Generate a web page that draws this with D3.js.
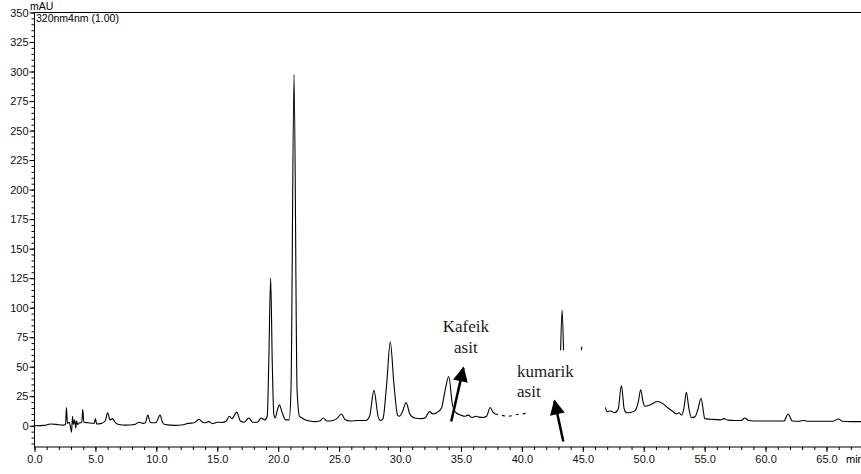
<!DOCTYPE html>
<html>
<head>
<meta charset="utf-8">
<script src="https://cdn.jsdelivr.net/npm/d3@7"></script>
<style>
  body { margin: 0; background: #fff; }
  svg { display: block; }
  .axis text { font-family: "Liberation Sans", Arial, sans-serif; font-size: 11px; fill: #111; }
  .axis line { stroke: #000; }
  .note { font-family: "Liberation Serif", "Times New Roman", serif; font-size: 17px; fill: #1a1a1a; }
</style>
</head>
<body>
<div id="chart"></div>
<script>
// chromatogram pieces [time (min), mAU] - the trace is broken where labels were pasted on
const traceMain = [
  [0, 0], [0.8, 0.3], [1.3, 1.5], [1.8, 1.2], [2.3, 0.5], [2.55, 1], [2.62, 15.5], [2.7, 2],
  [2.85, 3], [2.95, -1], [3.04, -5.5], [3.12, 8], [3.2, 1], [3.3, 5], [3.38, -2], [3.45, 4],
  [3.55, 1], [3.7, 2.5], [3.88, 2.5], [3.96, 14], [4.05, 3], [4.4, 2.5], [4.9, 2], [5.0, 6],
  [5.1, 1.5], [5.5, 2], [5.8, 4], [6.0, 11], [6.2, 5], [6.4, 6], [6.6, 3], [6.9, 1], [7.5, 0.5],
  [8.2, 1], [8.6, 3], [8.9, 2], [9.1, 2.5], [9.3, 9], [9.5, 3], [9.8, 2.5], [10.0, 3], [10.3, 9],
  [10.5, 3], [10.7, 1], [11.5, 0.3], [12.2, 0.8], [12.6, 2], [13.1, 2.5], [13.5, 5.5], [13.8, 3],
  [14.0, 2.5], [14.3, 3.5], [14.6, 1.8], [15.0, 3], [15.4, 2.8], [15.7, 3.5], [16.0, 8], [16.2, 6],
  [16.6, 11.5], [16.9, 4], [17.2, 3], [17.6, 6.5], [17.9, 3], [18.3, 3], [18.6, 6.5], [18.9, 5],
  [19.1, 8], [19.22, 50], [19.38, 125], [19.52, 50], [19.64, 10], [19.75, 6.5], [19.95, 14],
  [20.1, 17.7], [20.3, 12], [20.6, 5], [20.9, 5], [21.05, 30], [21.3, 297.5], [21.55, 30], [21.75, 8],
  [21.9, 7], [22.2, 5], [22.6, 4], [23.0, 3.5], [23.4, 4], [23.7, 6.5], [24.0, 4], [24.5, 4.5],
  [24.8, 6], [25.2, 10], [25.5, 5], [25.9, 4], [26.5, 4.5], [27.2, 4.5], [27.5, 8], [27.86, 30],
  [28.2, 8], [28.4, 4.5], [28.6, 6], [28.9, 35], [29.2, 71], [29.5, 35], [29.8, 9], [29.95, 8],
  [30.2, 12], [30.5, 19.7], [30.8, 10], [31.2, 6.5], [31.8, 6], [32.1, 7], [32.4, 12], [32.7, 10],
  [33.0, 11], [33.4, 15], [33.7, 30], [34.0, 41.7], [34.3, 18], [34.6, 11], [35.0, 9], [35.3, 8],
  [35.6, 9], [35.9, 7], [36.2, 8], [36.5, 7.3], [36.8, 7], [37.1, 8], [37.4, 15.5], [37.6, 12], [37.8, 10]
];
const traceFaded = [[37.8, 10], [38.3, 9], [38.8, 8], [39.2, 8.5], [39.6, 9.5], [40.0, 10], [40.6, 11]];
const traceSpike = [[43.18, 64], [43.3, 98], [43.42, 64]];
const traceStub = [[44.88, 64], [44.92, 67]];
const traceLate = [
  [46.85, 15.5], [47.0, 12], [47.3, 12.5], [47.6, 11], [47.9, 14], [48.17, 34], [48.4, 14], [48.6, 11],
  [49.0, 11.5], [49.3, 13], [49.55, 20], [49.75, 30.5], [49.95, 20], [50.1, 16.5], [50.5, 17.5],
  [51.1, 20.5], [51.6, 18.5], [52.0, 15], [52.4, 12], [52.7, 10], [52.9, 11], [53.1, 9], [53.3, 15],
  [53.5, 28.4], [53.7, 15], [53.9, 7], [54.2, 7.5], [54.45, 14], [54.7, 23.3], [54.9, 12], [55.0, 6],
  [55.5, 5.5], [56.3, 5], [56.6, 6], [56.9, 4.8], [57.5, 4.5], [58.0, 4.5], [58.3, 6.5], [58.6, 4.5],
  [59.5, 4], [60.5, 4], [61.5, 4], [61.85, 10], [62.2, 4], [62.8, 3.8], [63.1, 4.5], [63.4, 3.8],
  [64.5, 3.8], [65.5, 3.8], [66.0, 5.7], [66.3, 3.8], [67.0, 3.5], [67.9, 3.5]
];

// tick values
const xMajor = [0, 5, 10, 15, 20, 25, 30, 35, 40, 45, 50, 55, 60, 65];
const yMajor = [0, 25, 50, 75, 100, 125, 150, 175, 200, 225, 250, 275, 300, 325, 350];

// annotations: label lines and arrows [from, to] in data units
const noteLabels = [
  { text: "Kafeik", t: 35.4, v: 79, anchor: "middle" },
  { text: "asit", t: 35.4, v: 61.5, anchor: "middle" },
  { text: "kumarik", t: 39.6, v: 41.2, anchor: "start" },
  { text: "asit", t: 39.6, v: 24.3, anchor: "start" }
];
const noteArrows = [
  [[34.2, 3.6], [35.2, 49]],
  [[43.4, -13.3], [42.68, 21]]
];

let width = 861, height = 474;

// set the ranges
let x = d3.scaleLinear().domain([0, 65]).range([34.5, 826.5]);
let y = d3.scaleLinear().domain([-18, 350]).range([447, 12.5]);

let svg = d3.select("#chart").append("svg")
    .attr("width", width)
    .attr("height", height);

svg.append("defs").append("marker")
    .attr("id", "head")
    .attr("viewBox", "0 0 10 10")
    .attr("refX", 9)
    .attr("refY", 5)
    .attr("markerWidth", 17)
    .attr("markerHeight", 15)
    .attr("markerUnits", "userSpaceOnUse")
    .attr("orient", "auto")
    .append("path")
    .attr("d", "M0,0 L10,5 L0,10 Z")
    .attr("fill", "#000");

// minor ticks
svg.append("g")
    .attr("class", "axis")
    .attr("transform", "translate(0,447)")
    .call(d3.axisBottom(x).tickValues(d3.range(0, 68, 1)).tickSize(3).tickFormat(""))
    .call(g => g.select(".domain").remove());
svg.append("g")
    .attr("class", "axis")
    .attr("transform", "translate(34.5,0)")
    .call(d3.axisLeft(y).tickValues(d3.range(-15, 351, 5)).tickSize(3).tickFormat(""))
    .call(g => g.select(".domain").remove());

// major ticks with labels
svg.append("g")
    .attr("class", "axis")
    .attr("transform", "translate(0,447)")
    .call(d3.axisBottom(x).tickValues(xMajor).tickSize(5).tickPadding(3).tickFormat(d3.format(".1f")))
    .call(g => g.select(".domain").remove());
svg.append("g")
    .attr("class", "axis")
    .attr("transform", "translate(34.5,0)")
    .call(d3.axisLeft(y).tickValues(yMajor).tickSize(5).tickPadding(1))
    .call(g => g.select(".domain").remove());

// frame lines
svg.append("path")
    .attr("d", "M34.5,12.5 H861 M34.5,12.5 V447 H861")
    .attr("fill", "none")
    .attr("stroke", "#000");

svg.append("text")
    .attr("x", 30).attr("y", 10)
    .style("font-family", "Liberation Sans, Arial, sans-serif").style("font-size", "10.5px")
    .text("mAU");
svg.append("text")
    .attr("x", 36).attr("y", 22)
    .style("font-family", "Liberation Sans, Arial, sans-serif").style("font-size", "10.5px")
    .text("320nm4nm (1.00)");
// unit label runs off the right edge, as in the original
svg.append("text")
    .attr("x", 846).attr("y", 463)
    .style("font-family", "Liberation Sans, Arial, sans-serif").style("font-size", "11px")
    .text("min");

// the trace
let line = d3.line()
    .x(d => x(d[0]))
    .y(d => y(d[1]))
    .curve(d3.curveMonotoneX);

let pieces = [
  { data: traceMain, dash: null },
  { data: traceFaded, dash: "3,4" },
  { data: traceSpike, dash: null },
  { data: traceStub, dash: null },
  { data: traceLate, dash: null }
];
svg.selectAll(".trace")
    .data(pieces)
    .enter().append("path")
    .attr("class", "trace")
    .attr("d", d => line(d.data))
    .attr("fill", "none")
    .attr("stroke", "#000")
    .attr("stroke-width", 1.1)
    .attr("stroke-linejoin", "round")
    .attr("stroke-dasharray", d => d.dash);

// annotations
svg.selectAll(".arrow")
    .data(noteArrows)
    .enter().append("line")
    .attr("class", "arrow")
    .attr("x1", d => x(d[0][0]))
    .attr("y1", d => y(d[0][1]))
    .attr("x2", d => x(d[1][0]))
    .attr("y2", d => y(d[1][1]))
    .attr("stroke", "#000")
    .attr("stroke-width", 2.5)
    .attr("marker-end", "url(#head)");

svg.selectAll(".note")
    .data(noteLabels)
    .enter().append("text")
    .attr("class", "note")
    .attr("x", d => x(d.t))
    .attr("y", d => y(d.v))
    .attr("text-anchor", d => d.anchor)
    .text(d => d.text);
</script>
</body>
</html>
